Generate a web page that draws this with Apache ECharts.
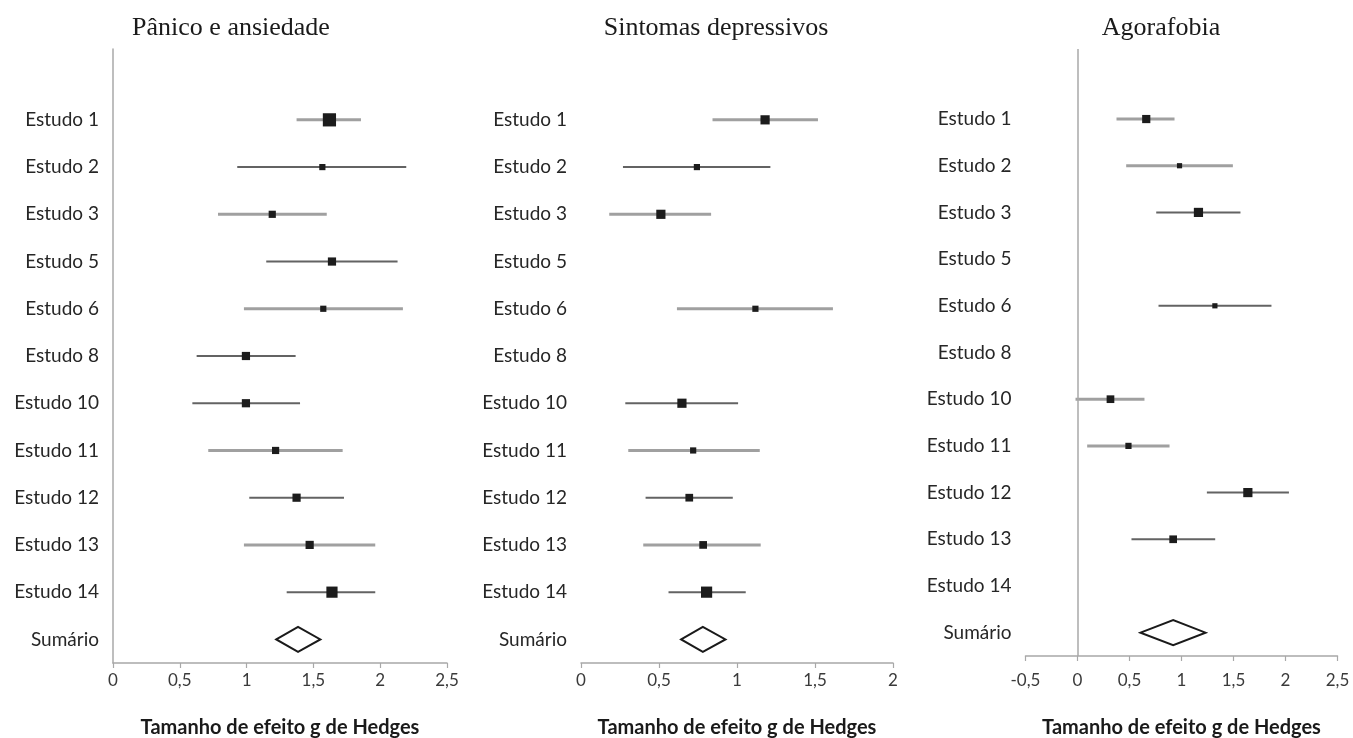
<!DOCTYPE html>
<html>
<head>
<meta charset="utf-8">
<script src="https://cdn.jsdelivr.net/npm/echarts@6/dist/echarts.min.js"></script>
<style>
html,body{margin:0;padding:0;background:#fff;}
#chart{width:1353px;height:738px;}
</style>
</head>
<body>
<div id="chart"></div>
<script>
// ---------- DATA ----------
const panelTitles = ['Pânico e ansiedade', 'Sintomas depressivos', 'Agorafobia'];
const studies = ['Estudo 1','Estudo 2','Estudo 3','Estudo 5','Estudo 6','Estudo 8','Estudo 10','Estudo 11','Estudo 12','Estudo 13','Estudo 14'];
const summaryLabel = 'Sumário';
const axisName = 'Tamanho de efeito g de Hedges';

// Pânico e ansiedade
const panicG  = [1.62, 1.567, 1.192, 1.639, 1.574, 0.995, 0.995, 1.217, 1.374, 1.472, 1.639];
const panicLo = [1.374, 0.93, 0.786, 1.147, 0.98, 0.626, 0.594, 0.713, 1.02, 0.98, 1.30];
const panicHi = [1.856, 2.195, 1.60, 2.13, 2.17, 1.367, 1.40, 1.719, 1.729, 1.963, 1.963];
const panicWeight = [12, 5, 6, 7, 5, 7, 7, 6, 7, 7, 10];
const panicSummary = [1.222, 1.385, 1.552];

// Sintomas depressivos
const depG  = [1.18, 0.743, 0.512, null, 1.118, null, 0.647, 0.719, 0.694, 0.783, 0.805];
const depLo = [0.843, 0.269, 0.181, null, 0.615, null, 0.284, 0.303, 0.414, 0.399, 0.561];
const depHi = [1.519, 1.214, 0.834, null, 1.615, null, 1.007, 1.146, 0.973, 1.152, 1.056];
const depWeight = [8, 5, 8, null, 5, null, 8, 5, 6.5, 6.5, 10];
const depSummary = [0.642, 0.781, 0.926];

// Agorafobia
const agoG  = [0.661, 0.981, 1.163, null, 1.321, null, 0.317, 0.49, 1.638, 0.92, null];
const agoLo = [0.375, 0.468, 0.757, null, 0.779, null, -0.019, 0.093, 1.244, 0.519, null];
const agoHi = [0.933, 1.494, 1.567, null, 1.865, null, 0.644, 0.885, 2.033, 1.324, null];
const agoWeight = [7, 4, 8, null, 4, null, 6.5, 5, 8, 6.5, null];
const agoSummary = [0.606, 0.92, 1.231];

// x axis ranges
const xMin = [0, 0, -0.5];
const xMax = [2.5, 2, 2.5];
const xStep = 0.5;

// ---------- STYLES ----------
// 1 = darker thin CI line, 0 = lighter thick CI line
const toneP = [[0,1,0,1,0,1,1,0,1,0,1],[0,1,0,0,0,0,1,0,1,0,1],[0,0,1,1,1,0,0,0,1,1,0]];
const grids = [
  {left:113, top:49, width:334, height:614, outerBoundsMode:'none', containLabel:false},
  {left:581, top:49, width:312, height:614, outerBoundsMode:'none', containLabel:false},
  {left:1025.5, top:49, width:312, height:607, outerBoundsMode:'none', containLabel:false}
];
const showYLine = [true, false, false];
const labelMargin = [9, 9, 16];
const nameGap = [55, 55, 62];
const titleX = [231, 716, 1161];
const labelFont = 'Lato, "Open Sans", sans-serif';
const markerPad = 1.2;

const cats = [''].concat(studies, [summaryLabel]);
const panels = [
  {g: panicG, lo: panicLo, hi: panicHi, w: panicWeight, s: panicSummary},
  {g: depG, lo: depLo, hi: depHi, w: depWeight, s: depSummary},
  {g: agoG, lo: agoLo, hi: agoHi, w: agoWeight, s: agoSummary}
];

const xAxes = [], yAxes = [], series = [];
panels.forEach((p, k) => {
  xAxes.push({
    type: 'value', gridIndex: k, min: xMin[k], max: xMax[k], interval: xStep,
    splitLine: {show: false},
    axisLine: {show: true, onZero: false, lineStyle: {color: '#a8a8a8', width: 1.5}},
    axisTick: {show: true, length: 5, lineStyle: {color: '#a8a8a8', width: 1.2}},
    axisLabel: {margin: labelMargin[k], color: '#3a3a3a', fontSize: 17, fontFamily: labelFont,
      formatter: v => String(v).replace('.', ',')},
    name: axisName, nameLocation: 'middle', nameGap: nameGap[k],
    nameTextStyle: {fontWeight: 'bold', fontSize: 20, color: '#1a1a1a', fontFamily: labelFont}
  });
  yAxes.push({
    type: 'category', gridIndex: k, data: cats, inverse: true,
    axisLine: {show: showYLine[k], onZero: false, lineStyle: {color: '#a8a8a8', width: 1.5}},
    axisTick: {show: false},
    splitLine: {show: false},
    axisLabel: {margin: 14, color: '#262626', fontSize: 19, fontFamily: labelFont, interval: 0}
  });
  const data = [];
  studies.forEach((s, i) => {
    if (p.g[i] == null) return;
    data.push([p.lo[i], p.g[i], p.hi[i], cats.indexOf(s), p.w[i], i]);
  });
  const tones = toneP[k];
  series.push({
    type: 'custom', xAxisIndex: k, yAxisIndex: k,
    dimensions: ['lo', 'g', 'hi', 'row', 'w', 'idx'],
    encode: {x: [0, 1, 2], y: 3},
    data: data,
    renderItem: function (params, api) {
      const row = api.value(3);
      const a = api.coord([api.value(0), row]);
      const b = api.coord([api.value(2), row]);
      const c = api.coord([api.value(1), row]);
      const sz = api.value(4) + markerPad;
      const t = tones[api.value(5)];
      return {
        type: 'group',
        children: [
          {type: 'line', shape: {x1: a[0], y1: a[1], x2: b[0], y2: b[1]},
           style: {stroke: t ? '#636363' : '#a0a0a0', lineWidth: t ? 2 : 3, lineCap: 'butt'}},
          {type: 'rect', shape: {x: c[0] - sz / 2, y: c[1] - sz / 2, width: sz, height: sz},
           style: {fill: '#1c1c1c'}}
        ]
      };
    }
  });
  series.push({
    type: 'custom', xAxisIndex: k, yAxisIndex: k,
    dimensions: ['lo', 'g', 'hi', 'row'],
    encode: {x: [0, 1, 2], y: 3},
    data: [[p.s[0], p.s[1], p.s[2], cats.indexOf(summaryLabel)]],
    renderItem: function (params, api) {
      const row = api.value(3);
      const a = api.coord([api.value(0), row]);
      const b = api.coord([api.value(2), row]);
      const c = api.coord([api.value(1), row]);
      const h = 12.5;
      return {
        type: 'polygon',
        shape: {points: [[a[0], a[1]], [c[0], c[1] - h], [b[0], b[1]], [c[0], c[1] + h]]},
        style: {fill: '#ffffff', stroke: '#1a1a1a', lineWidth: 2}
      };
    }
  });
});

// zero reference line in the Agorafobia panel
series.push({
  type: 'line', xAxisIndex: 2, yAxisIndex: 2, data: [], silent: true,
  markLine: {
    silent: true, symbol: 'none', animation: false,
    label: {show: false},
    lineStyle: {color: '#a8a8a8', width: 1.5, type: 'solid'},
    data: [{xAxis: 0}]
  }
});

const chart = echarts.init(document.getElementById('chart'), null, {renderer: 'canvas'});
chart.setOption({
  animation: false,
  backgroundColor: '#ffffff',
  grid: grids,
  xAxis: xAxes,
  yAxis: yAxes,
  series: series,
  graphic: panelTitles.map((t, k) => ({
    type: 'text', x: titleX[k], y: 28,
    style: {text: t, align: 'center', verticalAlign: 'middle', fill: '#1a1a1a',
      font: '26px "Liberation Serif", "DejaVu Serif", serif'}
  }))
});
</script>
</body>
</html>
